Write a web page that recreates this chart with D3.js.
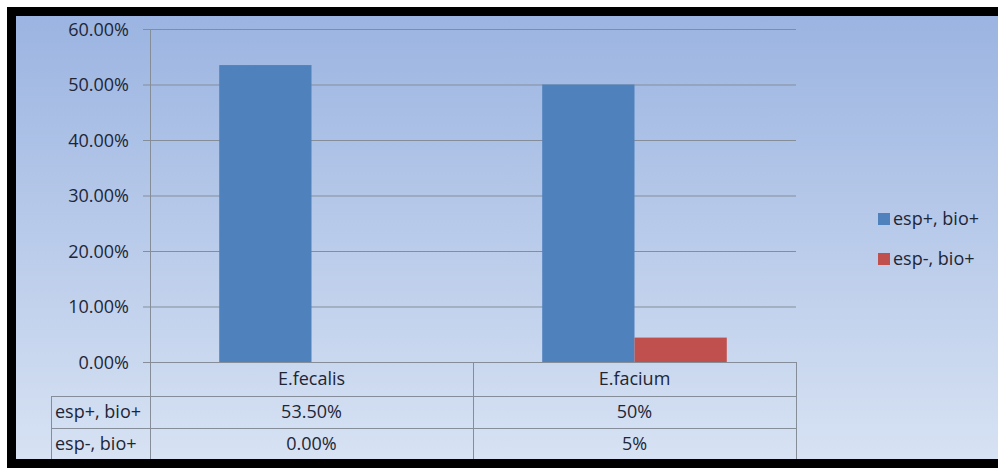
<!DOCTYPE html>
<html><head><meta charset="utf-8">
<script src="https://cdn.jsdelivr.net/npm/d3@7"></script>
<style>html,body{margin:0;padding:0;background:#fff;}svg{display:block;}</style>
</head><body>
<script>
const categories = ["E.fecalis", "E.facium"];
const seriesNames = ["esp+, bio+", "esp-, bio+"];
const espPosBioPos = [53.5, 50];
const espNegBioPos = [0, 4.4];
const tableLabels = [["53.50%", "50%"], ["0.00%", "5%"]];
const yTicks = [0, 10, 20, 30, 40, 50, 60];
const colors = ["#4f81bd", "#c0504d"];

(function () {
const W = 998, H = 468;
const svg = d3.select("body").append("svg").attr("width", W).attr("height", H);
const defs = svg.append("defs");
const g = defs.append("linearGradient").attr("id", "bg").attr("x1", 0).attr("y1", 0).attr("x2", 0).attr("y2", 1);
g.append("stop").attr("offset", "0%").attr("stop-color", "#9bb4e1");
g.append("stop").attr("offset", "100%").attr("stop-color", "#d7e2f3");

svg.append("rect").attr("x", 0).attr("y", 0).attr("width", W).attr("height", H).attr("fill", "#fff");
svg.append("rect").attr("x", 7).attr("y", 7).attr("width", W - 7).attr("height", H - 7).attr("fill", "#000");
svg.append("rect").attr("x", 16).attr("y", 16).attr("width", W - 16).attr("height", 459 - 16).attr("fill", "url(#bg)");

const font = "'Open Sans', sans-serif";
const textColor = "#1e2636";
const lineColor = "#858d99";

const pLeft = 150, pRight = 796, pTop = 29, pBottom = 362;
const x0 = d3.scaleBand().domain(categories).range([pLeft, pRight]).padding(0);
const y = d3.scaleLinear().domain([0, 60]).range([pBottom, pTop]);
const barW = x0.bandwidth() / 3.5;
const x1 = d3.scaleBand().domain(seriesNames).range([0.75 * barW, 0.75 * barW + 2 * barW]).padding(0);

// gridlines + ticks
const yAxis = d3.axisLeft(y).tickValues(yTicks).tickSize(-(pRight - pLeft)).tickSizeOuter(0)
  .tickFormat(d => d.toFixed(2) + "%");
const ya = svg.append("g").attr("transform", `translate(${pLeft},0)`).call(yAxis);
ya.select(".domain").remove();
ya.selectAll(".tick line").attr("stroke", lineColor).attr("x1", -7).attr("stroke-width", 1);
ya.selectAll(".tick text").attr("x", -21).attr("dy", "0.35em").attr("font-family", font)
  .attr("font-size", 18).attr("fill", textColor);

// bars
const data = categories.map((c, i) => ({ c, vals: [espPosBioPos[i], espNegBioPos[i]] }));
const grp = svg.append("g").selectAll("g").data(data).join("g")
  .attr("transform", d => `translate(${x0(d.c)},0)`);
grp.selectAll("rect").data(d => d.vals.map((v, j) => ({ v, s: seriesNames[j], j })))
  .join("rect")
  .attr("x", d => x1(d.s)).attr("width", x1.bandwidth())
  .attr("y", d => y(d.v)).attr("height", d => y(0) - y(d.v))
  .attr("fill", d => colors[d.j]);

// axis line (vertical)
svg.append("line").attr("x1", pLeft + 0.5).attr("x2", pLeft + 0.5).attr("y1", pTop).attr("y2", 459).attr("stroke", lineColor);

// data table
const rowH = [362, 396, 428, 459];
const tbl = svg.append("g");
const tabLeft = 51;
tbl.append("line").attr("x1", pLeft).attr("x2", pRight).attr("y1", rowH[0] + 0.5).attr("y2", rowH[0] + 0.5).attr("stroke", lineColor);
[rowH[1], rowH[2]].forEach(yy => tbl.append("line").attr("x1", tabLeft).attr("x2", pRight).attr("y1", yy + 0.5).attr("y2", yy + 0.5).attr("stroke", lineColor));
tbl.append("line").attr("x1", tabLeft + 0.5).attr("x2", tabLeft + 0.5).attr("y1", rowH[1]).attr("y2", rowH[3]).attr("stroke", lineColor);
categories.forEach((c, i) => {
  const xr = x0(c) + x0.bandwidth();
  tbl.append("line").attr("x1", xr + 0.5).attr("x2", xr + 0.5).attr("y1", rowH[0]).attr("y2", rowH[3]).attr("stroke", lineColor);
  tbl.append("text").attr("x", x0(c) + x0.bandwidth() / 2).attr("y", (rowH[0] + rowH[1]) / 2).attr("dy", "0.35em")
    .attr("text-anchor", "middle").attr("font-family", font).attr("font-size", 18).attr("fill", textColor).text(c);
  tableLabels.forEach((row, r) => {
    tbl.append("text").attr("x", x0(c) + x0.bandwidth() / 2).attr("y", (rowH[r + 1] + rowH[r + 2]) / 2).attr("dy", "0.35em")
      .attr("text-anchor", "middle").attr("font-family", font).attr("font-size", 18).attr("fill", textColor).text(row[i]);
  });
});
seriesNames.forEach((s, r) => {
  tbl.append("text").attr("x", 55).attr("y", (rowH[r + 1] + rowH[r + 2]) / 2).attr("dy", "0.35em")
    .attr("font-family", font).attr("font-size", 18).attr("fill", textColor).text(s);
});

// legend
const lg = svg.append("g");
seriesNames.forEach((s, j) => {
  const cy = 219 + j * 40;
  lg.append("rect").attr("x", 878).attr("y", cy - 6).attr("width", 12).attr("height", 12).attr("fill", colors[j]);
  lg.append("text").attr("x", 893).attr("y", cy).attr("dy", "0.35em").attr("font-family", font)
    .attr("font-size", 18).attr("fill", textColor).text(s);
});
})();
</script>
</body></html>
